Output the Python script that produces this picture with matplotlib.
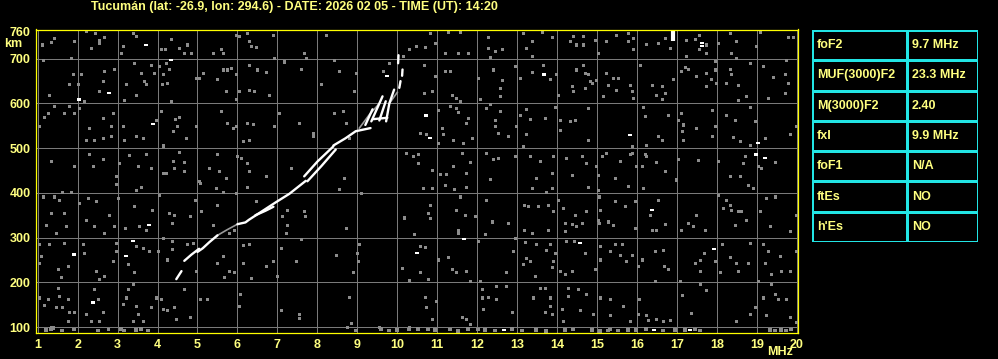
import numpy as np
import matplotlib
matplotlib.use('Agg')
import matplotlib.pyplot as plt

# ---- chart values ----
title = 'Tucumán (lat: -26.9, lon: 294.6) - DATE: 2026 02 05 - TIME (UT): 14:20'
freq_ticks = list(range(1, 21))
height_ticks = [100, 200, 300, 400, 500, 600, 700, 760]
grid_heights = [100, 200, 300, 400, 500, 600, 700]

table_labels = ['foF2', 'MUF(3000)F2', 'M(3000)F2', 'fxI', 'foF1', 'ftEs', "h'Es"]
table_values = ['9.7 MHz', '23.3 MHz', '2.40', '9.9 MHz', 'N/A', 'NO', 'NO']

# F2 echo trace, pieces as (freq MHz, virtual height km)
trace_segments = [
    ([4.47, 4.60], [207, 225]),
    ([4.67, 4.85, 5.04], [248, 262, 275]),
    ([5.00, 5.13, 5.30, 5.50], [268, 276, 290, 305]),
    ([6.00, 6.20, 6.29, 6.60, 6.96, 7.30, 7.71], [330, 334, 340, 358, 379, 398, 427]),
    ([6.45, 6.70, 6.90], [350, 360, 369]),
    ([7.67, 8.00, 8.40], [437, 470, 504]),
    ([7.75, 8.10, 8.46], [426, 460, 497]),
    ([8.40, 8.70, 8.96, 9.33], [506, 522, 538, 545]),
    ([9.20, 9.38], [552, 587]),
    ([9.35, 9.50, 9.63], [560, 590, 616]),
    ([9.55, 9.71], [562, 605]),
    ([9.72, 9.80, 9.92], [560, 600, 631]),
    ([9.40, 9.75], [565, 568]),
    ([10.05, 10.08], [635, 650]),
    ([10.12, 10.13], [662, 676]),
    ([10.02, 10.03], [690, 708]),
]
# weaker (gray) parts along the trace
faint_segments = [
    ([5.50, 5.75, 6.00], [305, 318, 330]),
    ([9.05, 9.30, 9.55], [545, 575, 600]),
    ([9.80, 10.00], [600, 625]),
]

# gray background echoes (freq, height)
noise_pts = [
    (1.11, 732), (1.33, 737), (1.42, 747), (1.92, 739), (2.21, 762), (2.33, 725), (2.44, 757),
    (2.53, 743), (2.67, 749), (2.54, 736), (3.13, 728), (3.08, 713), (3.38, 757), (3.46, 751),
    (4.08, 721), (4.19, 722), (4.33, 745), (4.54, 725), (4.67, 712), (4.75, 732), (4.83, 713),
    (5.38, 713), (5.58, 721), (5.63, 712), (5.96, 754), (6.03, 751), (6.25, 758), (6.29, 740),
    (6.33, 728), (6.46, 727), (6.88, 754), (7.17, 695), (7.67, 712), (7.71, 702), (8.21, 754),
    (10.13, 707), (10.29, 721), (10.46, 728),
    (1.13, 697), (1.83, 702), (2.08, 665), (1.88, 665), (1.79, 643), (1.29, 620), (2.17, 605),
    (2.00, 643), (2.54, 628), (2.67, 672), (2.63, 650), (2.92, 678), (3.21, 643), (3.17, 607),
    (3.42, 691), (3.46, 620), (3.67, 650), (3.71, 643), (3.58, 669), (3.83, 687), (3.92, 669),
    (4.04, 684), (4.13, 665), (4.21, 691), (4.25, 646), (4.11, 643), (4.29, 678), (4.33, 605),
    (4.96, 657), (5.04, 657), (5.13, 669), (5.50, 654), (5.63, 676), (5.71, 628), (5.75, 676),
    (5.83, 680), (5.96, 665), (5.96, 609), (6.04, 628), (6.29, 687), (6.29, 631), (6.42, 628),
    (6.50, 676), (6.71, 670), (6.79, 620), (6.92, 702), (7.17, 693), (7.58, 678), (8.08, 643),
    (8.42, 698), (8.54, 672), (8.96, 669), (8.92, 628), (9.63, 672), (9.79, 691),
    (1.04, 549), (1.25, 579), (1.42, 594), (1.17, 570), (1.67, 579), (1.79, 594), (1.92, 579),
    (2.04, 590), (2.29, 546), (2.21, 519), (2.42, 519), (2.63, 523), (2.63, 568), (2.83, 549),
    (2.88, 579), (2.83, 527), (3.13, 549), (3.17, 519), (3.46, 527), (3.63, 523), (3.96, 564),
    (4.08, 583), (4.13, 506), (4.38, 538), (4.44, 566), (4.50, 549), (4.54, 570), (4.71, 523),
    (4.96, 549), (5.58, 583), (5.75, 557), (5.88, 546), (5.96, 549), (6.25, 557), (6.38, 554),
    (6.13, 516), (6.29, 519), (6.92, 549), (7.04, 579), (7.54, 557), (7.88, 534), (7.88, 527),
    (8.42, 579), (8.63, 583), (8.71, 557), (8.79, 523),
    (1.33, 472), (1.92, 461), (2.29, 488), (2.38, 460), (2.63, 476), (2.96, 437), (3.04, 467),
    (3.29, 484), (3.50, 460), (3.71, 488), (3.83, 456), (4.13, 445), (4.21, 445), (4.38, 471),
    (4.42, 456), (4.54, 491), (4.67, 469), (4.67, 449), (5.04, 426), (5.29, 456), (5.50, 486),
    (5.54, 449), (5.71, 434), (6.00, 482), (6.08, 478), (6.25, 467), (6.29, 449), (6.71, 437),
    (7.33, 456), (8.67, 434), (10.21, 490), (10.38, 482),
    (10.69, 727), (10.94, 736), (10.82, 758), (11.28, 760), (11.57, 760), (11.19, 713),
    (11.53, 713), (11.78, 712), (12.27, 749), (12.27, 725), (12.44, 717), (12.63, 721),
    (12.32, 704), (13.15, 758), (13.36, 740), (13.36, 707), (13.23, 725), (13.63, 760),
    (13.88, 749), (14.33, 740), (14.40, 752), (14.48, 732), (14.65, 752), (14.65, 732),
    (14.94, 742), (15.02, 712), (15.23, 740), (15.48, 754), (15.78, 757), (15.78, 740),
    (15.90, 747), (15.90, 721), (16.23, 734), (16.53, 736), (16.69, 747), (16.82, 725),
    (17.23, 743), (17.23, 706), (17.44, 745), (17.55, 754), (17.55, 721), (17.72, 732),
    (17.73, 712), (18.02, 736), (18.32, 757), (18.36, 713), (18.48, 740), (18.48, 702),
    (18.98, 728), (19.08, 760), (19.78, 749), (19.90, 749),
    (10.67, 687), (10.67, 624), (10.86, 628), (11.19, 672), (11.32, 672), (10.94, 661),
    (11.36, 620), (11.48, 613), (11.57, 605), (12.02, 657), (12.07, 609), (12.40, 676),
    (12.63, 652), (12.57, 635), (12.57, 616), (12.94, 684), (13.08, 657), (13.38, 670),
    (13.65, 687), (13.82, 654), (13.98, 665), (14.02, 620), (14.38, 639), (14.40, 628),
    (14.48, 676), (14.65, 687), (14.69, 669), (14.69, 635), (14.78, 665), (14.86, 646),
    (14.82, 650), (14.98, 652), (15.15, 616), (15.23, 669), (15.28, 642), (15.40, 657),
    (15.48, 630), (15.52, 657), (15.82, 642), (15.88, 628), (15.90, 613), (16.07, 687),
    (16.36, 642), (16.48, 620), (16.61, 639), (16.63, 609), (16.69, 624), (16.90, 654),
    (17.11, 672), (17.19, 682), (17.28, 677), (17.48, 661), (17.73, 669), (17.73, 640),
    (17.86, 654), (17.94, 695), (17.98, 646), (17.94, 676), (18.23, 646), (18.32, 677),
    (18.36, 665), (18.52, 642), (18.52, 607), (18.73, 616), (18.82, 691), (19.15, 683),
    (19.28, 613), (19.40, 660), (19.69, 665), (19.78, 646), (19.69, 624), (19.73, 697),
    (10.58, 534), (10.73, 531), (11.02, 586), (11.02, 512), (11.13, 546), (11.15, 531),
    (11.32, 595), (11.48, 590), (11.52, 581), (11.40, 519), (11.65, 512), (11.73, 557),
    (11.78, 568), (11.88, 523), (12.23, 590), (12.32, 598), (12.44, 564), (12.44, 549),
    (12.57, 583), (12.78, 528), (12.52, 534), (12.97, 549), (13.22, 588), (13.07, 575),
    (13.32, 566), (13.23, 531), (13.15, 504), (13.69, 568), (13.94, 593), (14.08, 563),
    (14.32, 560), (14.44, 563), (14.08, 540), (14.77, 519), (14.77, 590), (15.88, 504),
    (16.15, 593), (16.19, 572), (16.23, 508), (16.53, 527), (16.61, 518), (16.78, 575),
    (17.02, 564), (17.11, 579), (17.15, 553), (17.13, 538), (17.15, 519), (17.47, 545),
    (17.88, 585), (17.94, 549), (17.88, 527), (18.23, 575), (18.44, 564), (18.40, 525),
    (18.57, 516), (18.82, 593), (18.94, 560), (19.19, 523), (19.82, 531), (19.98, 549),
    (10.52, 486), (10.52, 467), (10.88, 452), (11.08, 443), (11.23, 443), (11.40, 460),
    (11.61, 490), (11.82, 469), (11.73, 445), (12.23, 490), (12.40, 475), (12.52, 478),
    (12.33, 432), (12.94, 482), (13.32, 482), (13.58, 471), (13.48, 434), (13.90, 482),
    (13.86, 445), (14.23, 478), (14.38, 441), (14.61, 482), (14.73, 467), (14.98, 460),
    (15.02, 441), (15.11, 482), (15.23, 490), (15.44, 434), (15.57, 471), (15.82, 486),
    (15.86, 490), (15.97, 460), (16.19, 486), (16.13, 460), (16.23, 482), (16.48, 469),
    (16.69, 449), (16.98, 430), (17.02, 475), (17.53, 473), (18.02, 471), (18.32, 437),
    (18.57, 437), (18.65, 467), (18.69, 482), (18.82, 508), (19.02, 461), (19.11, 456),
    (19.44, 469),
    (1.13, 392), (1.42, 392), (1.54, 385), (1.33, 355), (1.67, 355), (1.21, 329), (1.46, 311),
    (1.71, 325), (1.62, 403), (1.83, 403), (2.04, 377), (2.25, 388), (2.46, 381), (2.21, 340),
    (2.42, 325), (2.67, 311), (2.79, 351), (2.92, 325), (2.96, 419), (3.00, 388), (3.19, 322),
    (3.42, 370), (3.46, 407), (3.54, 325), (3.71, 318), (3.87, 362), (3.58, 414), (4.04, 396),
    (4.28, 355), (4.37, 333), (4.42, 351), (4.82, 348), (4.94, 385), (5.08, 359), (5.38, 329),
    (5.46, 412), (5.06, 422), (5.50, 373), (5.63, 403), (5.79, 311), (5.92, 318), (5.96, 399),
    (6.25, 414), (6.46, 381), (7.12, 348), (7.25, 362), (7.67, 359), (7.69, 348), (7.25, 329),
    (7.21, 311), (8.71, 322), (8.54, 409), (9.08, 399), (10.17, 345), (10.42, 307),
    (1.04, 285), (1.29, 285), (1.67, 288), (1.08, 259), (1.03, 244), (1.50, 229), (1.75, 236),
    (1.58, 211), (2.13, 285), (2.17, 266), (2.46, 225), (2.54, 207), (2.67, 214), (2.88, 248),
    (2.96, 270), (2.96, 288), (3.46, 281), (3.25, 240), (3.42, 222), (3.63, 277), (3.79, 270),
    (4.00, 270), (4.13, 299), (4.37, 292), (4.37, 274), (4.25, 251), (4.75, 285), (4.88, 288),
    (4.96, 225), (5.63, 259), (5.50, 244), (5.67, 211), (5.79, 225), (5.92, 222), (6.13, 283),
    (6.29, 285), (6.13, 244), (6.33, 209), (6.71, 236), (6.88, 248), (7.00, 214), (7.08, 277),
    (7.46, 248), (7.58, 296), (8.46, 262), (8.88, 222), (9.04, 285), (9.00, 266), (9.02, 248),
    (10.12, 233), (10.29, 205),
    (1.04, 166), (1.25, 162), (1.50, 188), (1.54, 170), (1.17, 150), (1.46, 144), (1.75, 162),
    (1.62, 144), (1.79, 133), (1.92, 133), (1.75, 114), (1.33, 100), (2.42, 185), (2.50, 163),
    (2.63, 133), (2.21, 129), (2.33, 114), (2.54, 114), (2.75, 96), (3.25, 185), (3.38, 196),
    (3.21, 166), (3.13, 151), (3.46, 148), (3.50, 129), (3.63, 114), (3.38, 114), (3.83, 144),
    (3.96, 166), (4.08, 162), (4.13, 140), (4.25, 137), (4.42, 144), (4.46, 118), (4.67, 185),
    (4.82, 123), (5.07, 162), (5.25, 162), (6.06, 174), (6.04, 148), (7.08, 137), (7.54, 129),
    (7.54, 120), (8.79, 168), (8.83, 108), (9.54, 101), (10.28, 101), (8.75, 100),
    (10.65, 410), (10.88, 412), (11.19, 418), (11.42, 409), (11.73, 414), (11.57, 392),
    (10.82, 372), (10.78, 355), (10.82, 344), (11.47, 362), (11.69, 351), (11.94, 348),
    (11.53, 318), (11.53, 311), (12.22, 385), (12.38, 336), (12.19, 307), (12.78, 333),
    (12.94, 299), (13.17, 373), (13.28, 370), (13.38, 412), (13.52, 370), (13.78, 373),
    (13.88, 412), (13.73, 403), (13.90, 359), (13.17, 318), (13.36, 311), (13.78, 318),
    (14.02, 385), (14.15, 367), (14.19, 333), (14.19, 314), (14.36, 331), (14.48, 325),
    (14.61, 333), (14.44, 350), (14.73, 359), (14.77, 414), (15.02, 407), (15.05, 392),
    (15.07, 362), (15.02, 340), (15.05, 333), (15.28, 336), (15.40, 329), (15.44, 381),
    (15.69, 370), (15.78, 416), (15.94, 381), (15.94, 322), (16.15, 410), (16.53, 385),
    (16.32, 351), (16.36, 318), (16.47, 318), (16.69, 331), (17.11, 318), (17.28, 333),
    (17.40, 325), (17.47, 351), (17.69, 318), (18.02, 396), (18.15, 366), (18.23, 385),
    (18.32, 373), (18.36, 362), (18.44, 329), (18.52, 359), (18.61, 359), (18.73, 340),
    (18.77, 418), (18.90, 412), (19.07, 359), (19.23, 388), (19.32, 325), (19.44, 392),
    (19.82, 314), (19.98, 351),
    (10.57, 281), (10.69, 279), (10.58, 222), (10.78, 208), (11.02, 251), (11.27, 257),
    (11.38, 229), (11.48, 222), (11.73, 225), (11.83, 203), (12.02, 292), (12.07, 203),
    (12.73, 222), (12.90, 270), (12.94, 299), (13.19, 290), (13.23, 255), (13.32, 248),
    (13.15, 240), (13.44, 214), (13.48, 285), (13.73, 273), (13.82, 285), (13.86, 234),
    (13.90, 248), (13.94, 266), (14.07, 225), (14.19, 218), (14.36, 225), (14.21, 292),
    (14.42, 292), (14.69, 266), (14.94, 229), (15.07, 281), (15.07, 251), (15.33, 270),
    (15.44, 286), (15.58, 262), (15.63, 286), (15.73, 248), (15.88, 262), (16.02, 237),
    (16.11, 251), (16.44, 270), (16.44, 203), (16.65, 273), (16.67, 237), (16.78, 229),
    (17.07, 203), (17.44, 244), (17.57, 249), (17.57, 225), (17.67, 266), (17.94, 248),
    (18.07, 224), (18.13, 285), (18.32, 257), (18.48, 244), (18.53, 225), (18.77, 244),
    (18.82, 288), (19.15, 285), (19.19, 244), (19.28, 270), (19.36, 218), (19.61, 225),
    (19.82, 225), (19.57, 259), (19.98, 269),
    (10.69, 168), (10.73, 144), (10.98, 159), (10.86, 118), (11.61, 122), (11.73, 118),
    (11.82, 107), (12.13, 185), (12.28, 168), (12.13, 166), (12.48, 163), (12.15, 140),
    (12.48, 192), (12.73, 192), (12.86, 133), (13.40, 166), (13.57, 188), (13.69, 188),
    (13.82, 166), (13.82, 148), (13.69, 133), (13.86, 129), (14.11, 140), (14.15, 114),
    (14.28, 188), (14.28, 170), (14.53, 185), (14.73, 174), (14.57, 137), (14.90, 129),
    (15.07, 166), (15.32, 163), (15.32, 126), (15.65, 148), (15.82, 114), (16.05, 163),
    (16.02, 129), (16.22, 126), (16.27, 116), (16.48, 118), (16.65, 114), (16.82, 116),
    (17.13, 172), (17.36, 131), (17.57, 196), (17.73, 182), (18.47, 114), (18.82, 129),
    (18.94, 144), (19.02, 202), (19.15, 166), (19.36, 196), (19.44, 174), (19.52, 163),
    (19.72, 163), (19.23, 126), (19.82, 122), (19.98, 111),
]

# dense echoes just above the lower edge
floor_f = [1.21, 1.33, 1.38, 1.62, 1.92, 2.50, 3.08, 3.17, 3.46, 3.58, 3.75, 8.96, 9.58, 9.79,
           10.00, 10.29, 10.52, 10.77, 10.94, 11.32, 11.53, 11.78, 12.02, 12.19, 12.44, 12.86,
           13.11, 13.48, 13.73, 14.19, 14.40, 14.86, 15.07, 15.28, 15.32, 15.53, 15.78, 15.98,
           16.23, 16.65, 16.94, 17.19, 17.44, 17.57, 19.32, 19.44, 19.61, 19.73, 19.86]
floor_h = [93, 95, 98, 92, 94, 92, 95, 92, 93, 95, 92, 92, 96, 92, 93, 94, 96, 94, 93, 94, 91,
           95, 94, 93, 92, 95, 92, 93, 91, 93, 94, 93, 91, 92, 94, 92, 93, 93, 95, 92, 93, 93,
           94, 92, 93, 92, 93, 92, 94]

# strong isolated echoes (white)
bright_pts = [(3.71, 730), (4.33, 698), (2.04, 609), (2.78, 624), (9.73, 661), (3.88, 554),
              (13.67, 665), (17.63, 735), (17.63, 728), (10.73, 573), (10.83, 522), (15.82, 530),
              (19.02, 512), (18.98, 486), (19.19, 478), (1.92, 262), (3.21, 259), (3.38, 292),
              (3.79, 329), (2.38, 155), (10.48, 266), (11.67, 297), (14.57, 288), (16.36, 362),
              (17.93, 275), (16.42, 94), (17.32, 94), (12.67, 94)]
spike_f = 16.9
spike_h = (740, 765)

# ---- figure ----
text_yellow = '#FFFF80'
frame_yellow = '#FFFF00'
grid_gray = '#7a7a7a'
noise_gray = '#8c8c8c'
cyan = '#22E5E5'
font = ['Liberation Sans', 'DejaVu Sans']

fig = plt.figure(figsize=(9.98, 3.59), dpi=100, facecolor='black')
ax = fig.add_axes([36 / 998, 26 / 359, 762 / 998, 303.5 / 359])
ax.set_facecolor('black')
ax.set_xlim(0.96, 20.025)
ax.set_ylim(86.6, 765.5)

for f in freq_ticks:
    ax.axvline(f, color=grid_gray, lw=0.72, antialiased=False, zorder=1)
for h in grid_heights:
    ax.axhline(h, color=grid_gray, lw=0.72, antialiased=False, zorder=1)

noise = np.array(noise_pts)
ax.vlines(noise[:, 0], noise[:, 1] - 2.3, noise[:, 1] + 2.3, color=noise_gray,
          lw=0.8, antialiased=False, zorder=2)
ax.vlines(floor_f, np.array(floor_h) - 4, np.array(floor_h) + 4, color=noise_gray,
          lw=1.5, antialiased=False, zorder=2)
bright = np.array(bright_pts)
ax.vlines(bright[:, 0], bright[:, 1] - 2.5, bright[:, 1] + 2.5, color='white',
          lw=1.5, antialiased=False, zorder=3)
ax.vlines([spike_f], [spike_h[0]], [spike_h[1]], color='white', lw=3, zorder=3)

for seg_f, seg_h in faint_segments:
    ax.plot(seg_f, seg_h, color='#9a9a9a', lw=1.2, zorder=3)
for seg_f, seg_h in trace_segments:
    ax.plot(seg_f, seg_h, color='white', lw=1.7, solid_capstyle='round', zorder=4)

for side in ax.spines.values():
    side.set_color(frame_yellow)
    side.set_linewidth(0.9)
    side.set_zorder(5)

ax.set_xticks(freq_ticks)
ax.set_yticks(height_ticks)
ax.tick_params(length=0, colors=text_yellow, pad=4)
for lab in ax.get_xticklabels() + ax.get_yticklabels():
    lab.set_fontfamily(font)
    lab.set_fontweight('bold')
    lab.set_fontsize(9)
    lab.set_color(text_yellow)

fig.text(13 / 998, 1 - 44 / 359, 'km', color=text_yellow, fontsize=9, fontweight='bold',
         family=font, ha='center', va='center')
fig.text(780 / 998, 1 - 352 / 359, 'MHz', color=text_yellow, fontsize=9, fontweight='bold',
         family=font, ha='center', va='center')
fig.text(294 / 998, 1 - 7 / 359, title, color=text_yellow, fontsize=9, fontweight='bold',
         family=font, ha='center', va='center')

# parameter table
tab = fig.add_axes([812 / 998, 1 - 242 / 359, 166 / 998, 212 / 359])
tab.set_xlim(0, 166)
tab.set_ylim(len(table_labels), 0)
tab.axis('off')
for i in range(len(table_labels) + 1):
    tab.axhline(i, color=cyan, lw=1.0, antialiased=False)
for xv in (0, 95, 166):
    tab.axvline(xv, color=cyan, lw=1.0, antialiased=False)
for i, (lab, val) in enumerate(zip(table_labels, table_values)):
    tab.text(5, i + 0.5, lab, color=text_yellow, fontsize=9, fontweight='bold', family=font,
             va='center', ha='left')
    tab.text(100, i + 0.5, val, color=text_yellow, fontsize=9, fontweight='bold', family=font,
             va='center', ha='left')

fig.savefig('out.png', dpi=100, facecolor='black')
